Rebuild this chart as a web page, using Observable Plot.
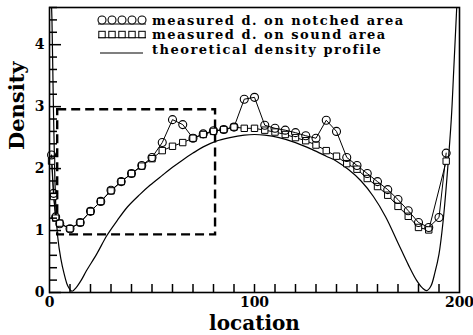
<!DOCTYPE html>
<html><head><meta charset="utf-8">
<script src="https://cdn.jsdelivr.net/npm/d3@7"></script>
<script src="https://cdn.jsdelivr.net/npm/@observablehq/plot@0.6"></script>
<style>
body{margin:0;background:#fff;}
#wrap{position:relative;width:473px;height:335px;}
#wrap svg{display:block;}
#legend{position:absolute;left:0;top:0;pointer-events:none;}
</style></head><body><div id="wrap"></div>
<script>
// ---- data ----
const notchedLoc = [1, 2, 3, 5, 10, 15, 20, 25, 30, 35, 40, 45, 50, 55, 60, 65, 70, 75, 80, 85, 90, 95, 100, 105, 110, 115, 120, 125, 130, 135, 140, 145, 150, 155, 160, 165, 170, 175, 180, 185, 190, 193.5];
const notchedDensity = [2.22, 1.6, 1.22, 1.11, 1.03, 1.13, 1.31, 1.47, 1.65, 1.79, 1.92, 2.05, 2.18, 2.42, 2.79, 2.71, 2.49, 2.56, 2.61, 2.63, 2.67, 3.12, 3.15, 2.70, 2.65, 2.62, 2.58, 2.53, 2.49, 2.78, 2.60, 2.18, 2.05, 1.92, 1.79, 1.66, 1.50, 1.32, 1.13, 1.05, 1.21, 2.25];

const soundLoc = [1, 2, 3, 5, 10, 15, 20, 25, 30, 35, 40, 45, 50, 55, 60, 65, 70, 75, 80, 85, 90, 95, 100, 105, 110, 115, 120, 125, 130, 135, 140, 145, 150, 155, 160, 165, 170, 175, 180, 185, 193.5];
const soundDensity = [2.12, 1.55, 1.2, 1.12, 1.03, 1.13, 1.31, 1.47, 1.64, 1.79, 1.92, 2.04, 2.16, 2.29, 2.36, 2.42, 2.49, 2.55, 2.60, 2.63, 2.67, 2.65, 2.65, 2.62, 2.59, 2.55, 2.50, 2.45, 2.38, 2.29, 2.20, 2.08, 1.99, 1.84, 1.71, 1.57, 1.39, 1.23, 1.05, 1.01, 2.12];

const theoLoc = [0, 0.6, 1.2, 1.8, 2.5, 3.2, 4, 5.5, 7, 9, 11, 13, 15.5, 18, 23, 28, 33, 38, 44, 49, 55, 60, 65, 70, 75, 81, 88, 95, 100, 105, 112, 120, 128, 135, 140, 146, 152, 158, 164, 170, 175, 179, 182, 184, 186, 188, 190, 192, 194, 196, 197.2, 198.5, 200];
const theoDensity = [5.6, 5.0, 4.4, 3.2, 2.0, 1.3, 0.9, 0.55, 0.32, 0.1, 0.02, 0.08, 0.2, 0.35, 0.62, 0.92, 1.16, 1.38, 1.58, 1.73, 1.89, 2.02, 2.14, 2.25, 2.35, 2.44, 2.5, 2.54, 2.55, 2.54, 2.5, 2.42, 2.31, 2.2, 2.12, 1.98, 1.8, 1.55, 1.22, 0.8, 0.45, 0.2, 0.07, 0.03, 0.1, 0.32, 0.62, 1.15, 1.9, 2.8, 3.6, 4.5, 5.5];

// dashed zoom box (location / density extents)
const boxLoc = [4, 81];
const boxDensity = [0.93, 2.95];

const xDomain = [0, 200];
const yDomain = [0, 4.6];
const xLabelTicks = [0, 100, 200];
const xMinorTicks = d3.range(10, 200, 10);
const yLabelTicks = [0, 1, 2, 3, 4];
const yMinorTicks = d3.range(0, 4.61, 0.2).filter(v => Math.abs(v - Math.round(v)) > 0.01);

const legendLabels = ["measured d. on notched area", "measured d. on sound area", "theoretical density profile"];

const notched = notchedLoc.map((x, i) => ({x, y: notchedDensity[i]}));
const sound = soundLoc.map((x, i) => ({x, y: soundDensity[i]}));
const theo = theoLoc.map((x, i) => ({x, y: theoDensity[i]}));
const box = [{x1: boxLoc[0], x2: boxLoc[1], y1: boxDensity[0], y2: boxDensity[1]}];

const font = '"DejaVu Serif", serif';
const W = 473, H = 335, mT = 7, mR = 14, mB = 43, mL = 49;
const frameW = W - mL - mR, frameH = H - mT - mB;
// inward tick lengths (pixels) expressed along the perpendicular scale
const xTickLen = 8 / frameH * (yDomain[1] - yDomain[0]);
const yMinorLen = 8 / frameW * (xDomain[1] - xDomain[0]);
const yMajorLen = 12 / frameW * (xDomain[1] - xDomain[0]);

const plot = Plot.plot({
  width: W, height: H,
  marginTop: mT, marginRight: mR, marginBottom: mB, marginLeft: mL,
  style: {fontFamily: font, fontWeight: "bold", fontSize: "14px", background: "white", color: "black"},
  x: {domain: xDomain, label: null},
  y: {domain: yDomain, label: null},
  marks: [
    Plot.line(theo, {x: "x", y: "y", curve: "catmull-rom", stroke: "black", strokeWidth: 1.2, clip: true}),
    Plot.rect(box, {x1: "x1", x2: "x2", y1: "y1", y2: "y2", fill: "none", stroke: "black", strokeWidth: 2.4, strokeDasharray: "9,5"}),
    Plot.line(sound, {x: "x", y: "y", stroke: "black", strokeWidth: 1}),
    Plot.line(notched, {x: "x", y: "y", stroke: "black", strokeWidth: 1}),
    Plot.dot(sound, {x: "x", y: "y", symbol: "square", r: 3.6, stroke: "black", fill: "white", strokeWidth: 1}),
    Plot.dot(notched, {x: "x", y: "y", symbol: "circle", r: 4, stroke: "black", fill: "none", strokeWidth: 1.1}),
    // inward ticks
    Plot.ruleX(xMinorTicks, {x: d => d, y1: yDomain[0], y2: yDomain[0] + xTickLen, stroke: "black", strokeWidth: 1.5}),
    Plot.ruleY(yMinorTicks, {y: d => d, x1: xDomain[0], x2: xDomain[0] + yMinorLen, stroke: "black", strokeWidth: 1.5}),
    Plot.ruleY(yLabelTicks, {y: d => d, x1: xDomain[0], x2: xDomain[0] + yMajorLen, stroke: "black", strokeWidth: 1.5}),
    Plot.frame({stroke: "black", strokeWidth: 1.6}),
    // tick labels
    Plot.axisX(xLabelTicks, {tickSize: 0, tickPadding: 5, label: null, tickFormat: d3.format("d"), fontSize: 14, fontWeight: "bold"}),
    Plot.axisY(yLabelTicks, {tickSize: 0, tickPadding: 5, label: null, tickFormat: d3.format("d"), fontSize: 14, fontWeight: "bold"}),
    Plot.text(["location"], {frameAnchor: "bottom", dy: 37, fontSize: 20, fontWeight: "bold", fontFamily: font}),
    Plot.text(["Density"], {frameAnchor: "left", dx: -32, rotate: -90, fontSize: 21, fontWeight: "bold", fontFamily: font})
  ]
});
document.getElementById("wrap").appendChild(plot);

// ---- legend overlay ----
const lg = d3.select("#wrap").append("svg").attr("id", "legend").attr("width", W).attr("height", H);
const sampleX = [102, 112, 122, 132, 142];
const rowsY = [20, 34.5, 49];
lg.append("line").attr("x1", 98).attr("x2", 146).attr("y1", rowsY[0] + 4).attr("y2", rowsY[0] + 4).attr("stroke", "black").attr("stroke-width", 1);
lg.selectAll("circle.s").data(sampleX).join("circle").attr("cx", d => d).attr("cy", rowsY[0]).attr("r", 4).attr("fill", "white").attr("stroke", "black").attr("stroke-width", 1.1);
lg.append("line").attr("x1", 98).attr("x2", 146).attr("y1", rowsY[1] + 3.2).attr("y2", rowsY[1] + 3.2).attr("stroke", "black").attr("stroke-width", 1);
lg.selectAll("rect.s").data(sampleX).join("rect").attr("x", d => d - 3.2).attr("y", rowsY[1] - 3.2).attr("width", 6.4).attr("height", 6.4).attr("fill", "white").attr("stroke", "black").attr("stroke-width", 1);
lg.append("line").attr("x1", 100).attr("x2", 143).attr("y1", rowsY[2] + 4).attr("y2", rowsY[2] + 4).attr("stroke", "black").attr("stroke-width", 1.2);
lg.selectAll("text").data(legendLabels).join("text")
  .attr("x", 152).attr("y", (d, i) => rowsY[i] + 4.5)
  .attr("font-family", font).attr("font-weight", "bold").attr("font-size", 13)
  .attr("letter-spacing", "1.5px")
  .text(d => d);
</script>
</body></html>
